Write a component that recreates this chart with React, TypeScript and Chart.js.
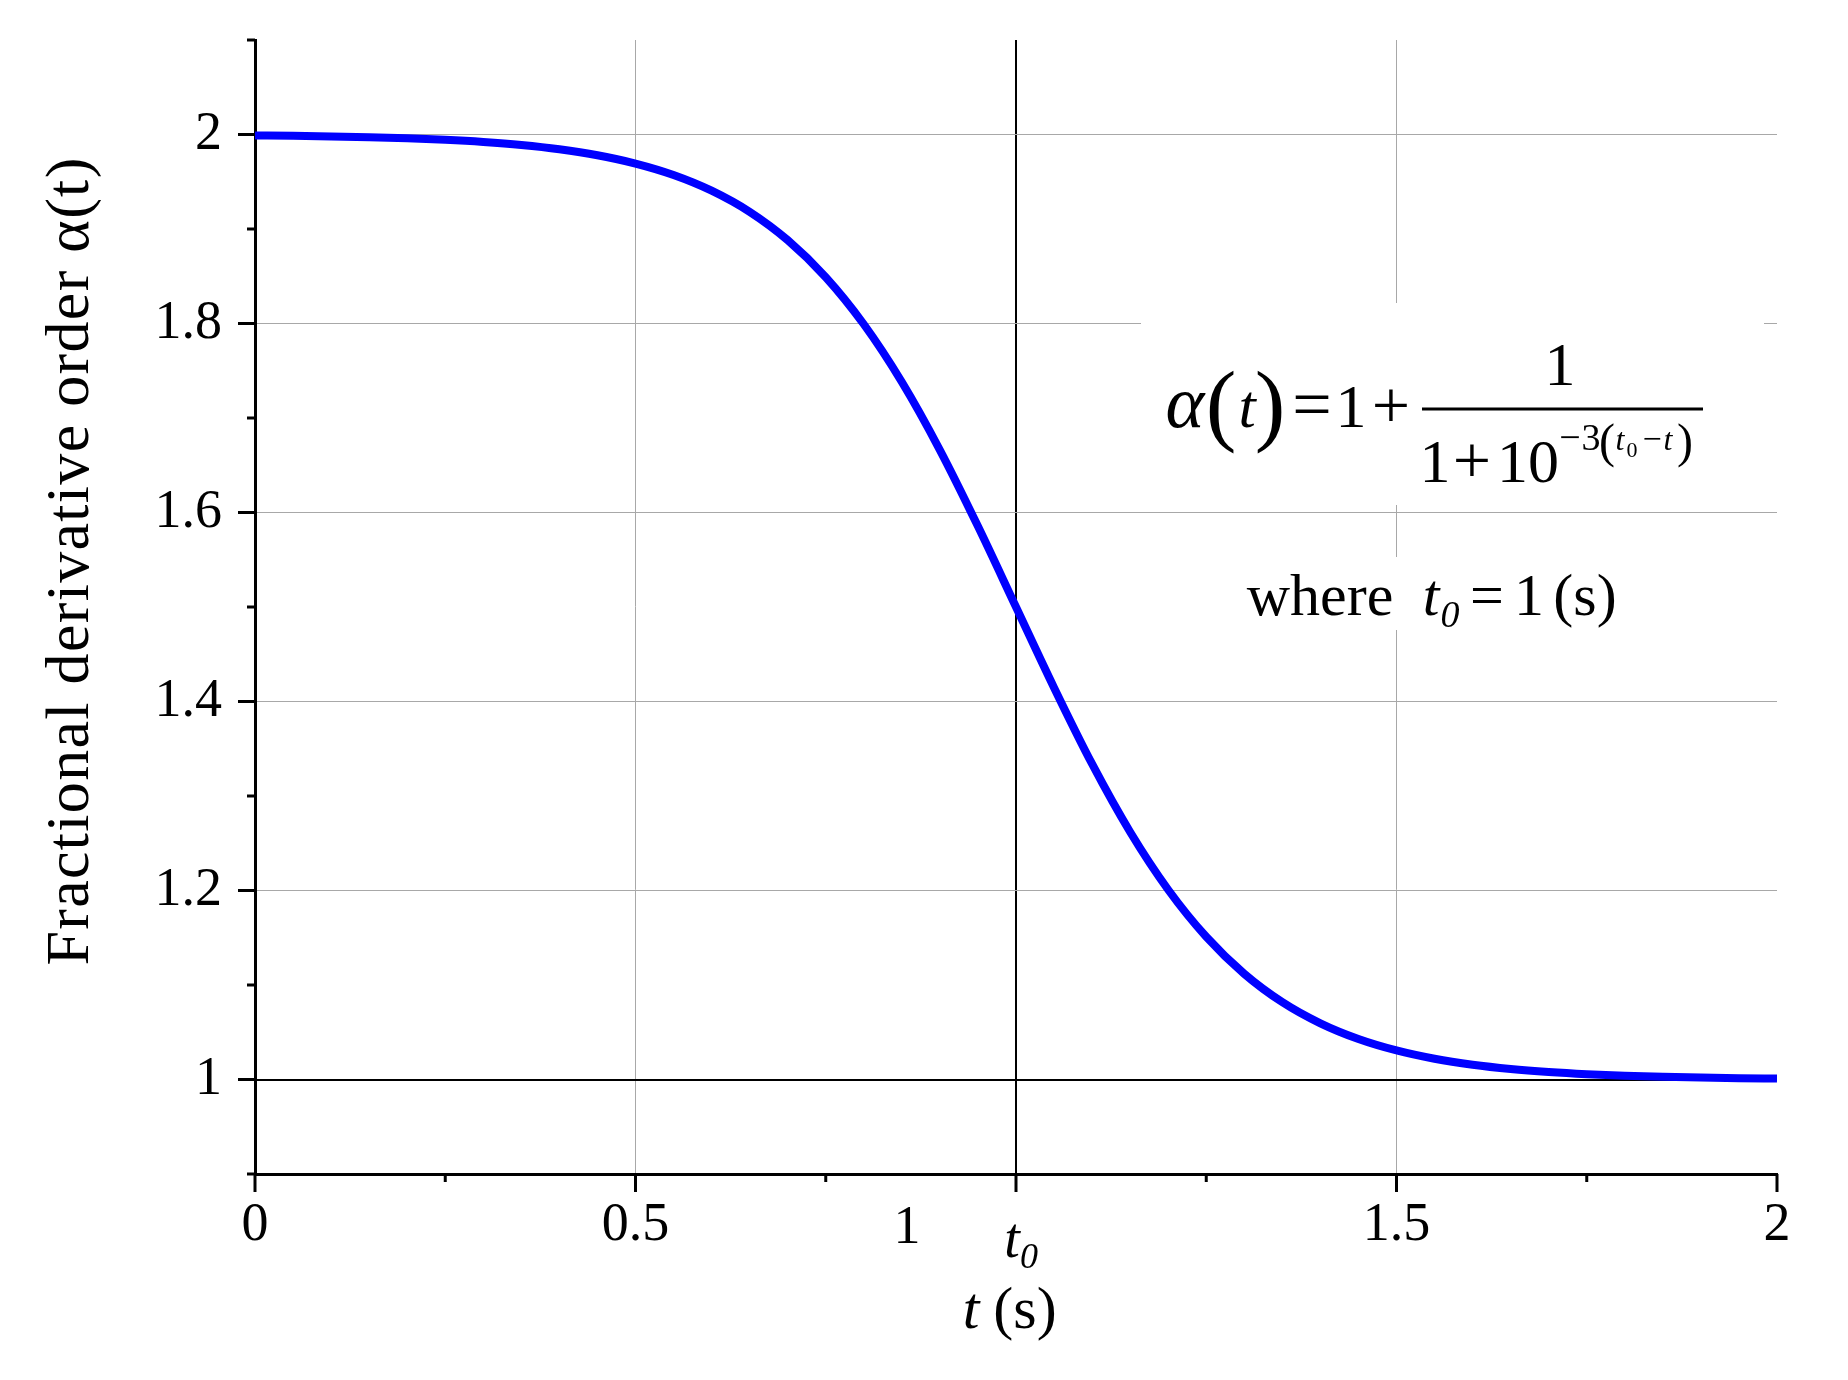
import React, { useEffect, useRef } from 'react';
import { Chart, registerables } from 'chart.js';

Chart.register(...registerables);

// ---- data ----
const tValues = [
  0, 0.05, 0.1, 0.15, 0.2, 0.25, 0.3, 0.35, 0.4, 0.45,
  0.5, 0.55, 0.6, 0.65, 0.7, 0.75, 0.8, 0.85, 0.9, 0.95,
  1.0, 1.05, 1.1, 1.15, 1.2, 1.25, 1.3, 1.35, 1.4, 1.45,
  1.5, 1.55, 1.6, 1.65, 1.7, 1.75, 1.8, 1.85, 1.9, 1.95, 2.0,
];
const alphaValues = [
  1.999, 1.9986, 1.998, 1.9972, 1.996, 1.9944, 1.9921, 1.9889, 1.9844, 1.9781,
  1.9693, 1.9572, 1.9406, 1.9182, 1.8882, 1.849, 1.7992, 1.7381, 1.6661, 1.5854,
  1.5, 1.4146, 1.3339, 1.2619, 1.2008, 1.151, 1.1118, 1.0818, 1.0594, 1.0428,
  1.0307, 1.0219, 1.0156, 1.0111, 1.0079, 1.0056, 1.004, 1.0028, 1.002, 1.0014, 1.001,
];
const xLabeledTicks = [0, 0.5, 1.5, 2];
const xMajorTicks = [0, 0.5, 1, 1.5, 2];
const xGridTicks = [0.5, 1.5];
const yLabeledTicks = [1, 1.2, 1.4, 1.6, 1.8, 2];
const yGridTicks = [1.2, 1.4, 1.6, 1.8, 2];
const markerValue = 1; // t0 and the alpha = 1 reference line

const SERIF = '"Liberation Serif", "Times New Roman", serif';
const GRID_GRAY = '#a8a8a8';

const near = (a: number, list: number[]) => list.some((v) => Math.abs(v - a) < 1e-6);

function txt(ctx: CanvasRenderingContext2D, s: string, x: number, y: number, font: string, align: CanvasTextAlign = 'center') {
  ctx.font = font;
  ctx.textAlign = align;
  ctx.textBaseline = 'alphabetic';
  ctx.fillText(s, x, y);
}

const annotations = {
  id: 'annotations',
  beforeDatasetsDraw(chart: any) {
    const ctx: CanvasRenderingContext2D = chart.ctx;
    ctx.save();
    ctx.fillStyle = '#ffffff';
    // white backgrounds of the formula text boxes
    ctx.fillRect(1141, 303, 1764 - 1141, 505 - 303);
    ctx.fillRect(1232, 557, 400, 73);
    ctx.restore();
  },
  afterDraw(chart: any) {
    const ctx: CanvasRenderingContext2D = chart.ctx;
    const xs = chart.scales.x;
    const ys = chart.scales.y;
    const { left, bottom } = chart.chartArea;
    ctx.save();
    ctx.strokeStyle = '#000';
    ctx.fillStyle = '#000';
    ctx.lineWidth = 3;
    ctx.lineCap = 'butt';
    // x ticks (outward, down)
    xs.ticks.forEach((t: any) => {
      const px = xs.getPixelForValue(t.value);
      const len = near(t.value, xMajorTicks) ? 18 : 8;
      ctx.beginPath();
      ctx.moveTo(px, bottom);
      ctx.lineTo(px, bottom + len);
      ctx.stroke();
    });
    // y ticks (outward, left)
    ys.ticks.forEach((t: any) => {
      const py = ys.getPixelForValue(t.value);
      const len = near(t.value, yLabeledTicks) ? 17 : 8;
      ctx.beginPath();
      ctx.moveTo(left, py);
      ctx.lineTo(left - len, py);
      ctx.stroke();
    });

    // tick label "1" shifted left, with t0 below the marker tick
    const p1 = xs.getPixelForValue(markerValue);
    txt(ctx, '1', p1 - 109, 1243, `54px ${SERIF}`);
    txt(ctx, 't', p1 - 4, 1257, `italic 56px ${SERIF}`);
    txt(ctx, '0', p1 + 13, 1268, `italic 36px ${SERIF}`);

    // x axis title
    txt(ctx, 't', 971, 1328, `italic 60px ${SERIF}`);
    txt(ctx, '(s)', 1025, 1328, `60px ${SERIF}`);

    // y axis title
    ctx.save();
    ctx.translate(88, 561);
    ctx.rotate(-Math.PI / 2);
    (ctx as any).letterSpacing = '1.3px';
    txt(ctx, 'Fractional derivative order α(t)', 0, 0, `62px ${SERIF}`);
    (ctx as any).letterSpacing = '0px';
    ctx.restore();

    // formula
    txt(ctx, 'α', 1185, 427, `italic 74px ${SERIF}`);
    txt(ctx, '(', 1221, 434, `92px ${SERIF}`);
    txt(ctx, 't', 1247, 427, `italic 62px ${SERIF}`);
    txt(ctx, ')', 1270, 434, `92px ${SERIF}`);
    txt(ctx, '=', 1312, 428, `70px ${SERIF}`);
    txt(ctx, '1', 1351, 427, `62px ${SERIF}`);
    txt(ctx, '+', 1391, 428, `68px ${SERIF}`);
    ctx.lineWidth = 3;
    ctx.beginPath();
    ctx.moveTo(1422, 409);
    ctx.lineTo(1703, 409);
    ctx.stroke();
    txt(ctx, '1', 1560, 385, `62px ${SERIF}`);
    txt(ctx, '1', 1435, 482, `62px ${SERIF}`);
    txt(ctx, '+', 1472, 483, `68px ${SERIF}`);
    txt(ctx, '10', 1528, 482, `62px ${SERIF}`);
    txt(ctx, '−', 1570, 450, `38px ${SERIF}`);
    txt(ctx, '3', 1591, 450, `38px ${SERIF}`);
    txt(ctx, '(', 1607, 457, `48px ${SERIF}`);
    txt(ctx, 't', 1620, 450, `italic 32px ${SERIF}`);
    txt(ctx, '0', 1632, 457, `22px ${SERIF}`);
    txt(ctx, '−', 1652, 450, `34px ${SERIF}`);
    txt(ctx, 't', 1668, 450, `italic 32px ${SERIF}`);
    txt(ctx, ')', 1685, 457, `48px ${SERIF}`);

    // where t0 = 1 (s)
    txt(ctx, 'where', 1320, 615, `60px ${SERIF}`);
    txt(ctx, 't', 1431, 615, `italic 60px ${SERIF}`);
    txt(ctx, '0', 1450, 627, `italic 38px ${SERIF}`);
    txt(ctx, '=', 1487, 615, `60px ${SERIF}`);
    txt(ctx, '1', 1529, 615, `60px ${SERIF}`);
    txt(ctx, '(s)', 1585, 615, `60px ${SERIF}`);
    ctx.restore();
  },
};

export default function App() {
  const canvasRef = useRef<HTMLCanvasElement | null>(null);

  useEffect(() => {
    const canvas = canvasRef.current;
    if (!canvas) return;
    const points = tValues.map((t, i) => ({ x: t, y: alphaValues[i] }));
    const chart = new Chart(canvas, {
      type: 'line',
      data: {
        datasets: [
          {
            data: points,
            borderColor: '#0000ff',
            borderWidth: 8,
            pointRadius: 0,
            fill: false,
            cubicInterpolationMode: 'monotone',
          },
        ],
      },
      options: {
        responsive: false,
        animation: false,
        devicePixelRatio: 1,
        layout: { autoPadding: false, padding: { top: 40, right: 71, left: 0, bottom: 0 } },
        plugins: { legend: { display: false }, tooltip: { enabled: false } },
        scales: {
          x: {
            type: 'linear',
            min: 0,
            max: 2,
            afterFit: (s: any) => {
              s.height = 206;
              s.paddingLeft = 0;
              s.paddingRight = 0;
            },
            ticks: {
              stepSize: 0.25,
              padding: 19,
              color: '#000',
              font: { family: SERIF, size: 54 },
              callback: (v: any) => (near(Number(v), xLabeledTicks) ? String(v) : ''),
              maxRotation: 0,
              autoSkip: false,
            },
            grid: {
              drawTicks: false,
              color: (c: any) =>
                c.tick && Math.abs(c.tick.value - markerValue) < 1e-6
                  ? '#000'
                  : c.tick && near(c.tick.value, xGridTicks)
                  ? GRID_GRAY
                  : 'rgba(0,0,0,0)',
              lineWidth: (c: any) => (c.tick && Math.abs(c.tick.value - markerValue) < 1e-6 ? 2 : 1),
            },
            border: { display: true, color: '#000', width: 3 },
          },
          y: {
            type: 'linear',
            min: 0.9,
            max: 2.1,
            afterFit: (s: any) => {
              s.width = 255;
              s.paddingTop = 0;
              s.paddingBottom = 0;
            },
            ticks: {
              stepSize: 0.1,
              padding: 33,
              color: '#000',
              font: { family: SERIF, size: 54 },
              callback: (v: any) => (near(Number(v), yLabeledTicks) ? String(Number(Number(v).toFixed(2))) : ''),
              autoSkip: false,
            },
            grid: {
              drawTicks: false,
              color: (c: any) =>
                c.tick && Math.abs(c.tick.value - markerValue) < 1e-6
                  ? '#000'
                  : c.tick && near(c.tick.value, yGridTicks)
                  ? GRID_GRAY
                  : 'rgba(0,0,0,0)',
              lineWidth: (c: any) => (c.tick && Math.abs(c.tick.value - markerValue) < 1e-6 ? 2 : 1),
            },
            border: { display: true, color: '#000', width: 3 },
          },
        },
      },
      plugins: [annotations],
    });
    return () => chart.destroy();
  }, []);

  return (
    <div style={{ position: 'absolute', left: 0, top: 0, width: 1848, height: 1380, background: '#fff' }}>
      <canvas ref={canvasRef} width={1848} height={1380} style={{ display: 'block' }} />
    </div>
  );
}
